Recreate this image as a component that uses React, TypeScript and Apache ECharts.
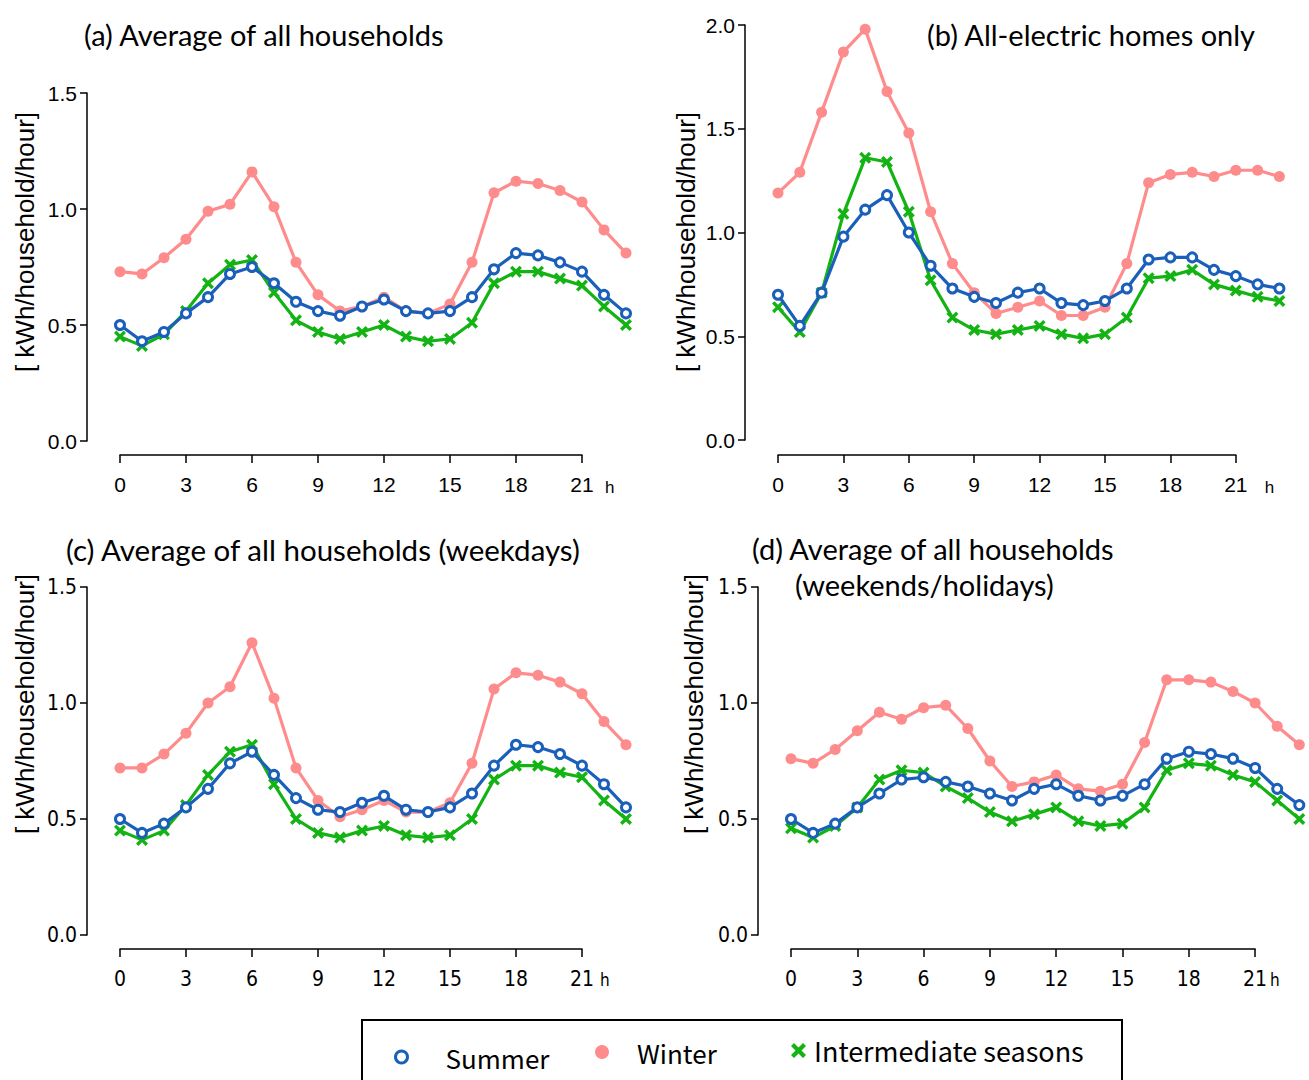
import React, { useEffect, useRef } from "react";
import * as echarts from "echarts";

// ---- data ----
const hours = [0, 1, 2, 3, 4, 5, 6, 7, 8, 9, 10, 11, 12, 13, 14, 15, 16, 17, 18, 19, 20, 21, 22, 23];
const xTicks = [0, 3, 6, 9, 12, 15, 18, 21];
const xUnit = "h";
const seasonNames = ["Summer", "Winter", "Intermediate seasons"];
const panelTitles = [
  "(a) Average of all households",
  "(b) All-electric homes only",
  "(c) Average of all households (weekdays)",
  "(d) Average of all households",
];
const panelSubtitleD = "(weekends/holidays)";
const yAxisTitle = "[ kWh/household/hour]";

const aSummer = [0.50, 0.43, 0.47, 0.55, 0.62, 0.72, 0.75, 0.68, 0.60, 0.56, 0.54, 0.58, 0.61, 0.56, 0.55, 0.56, 0.62, 0.74, 0.81, 0.80, 0.77, 0.73, 0.63, 0.55];
const aWinter = [0.73, 0.72, 0.79, 0.87, 0.99, 1.02, 1.16, 1.01, 0.77, 0.63, 0.56, 0.58, 0.62, 0.56, 0.55, 0.59, 0.77, 1.07, 1.12, 1.11, 1.08, 1.03, 0.91, 0.81];
const aInter = [0.45, 0.41, 0.46, 0.56, 0.68, 0.76, 0.78, 0.64, 0.52, 0.47, 0.44, 0.47, 0.50, 0.45, 0.43, 0.44, 0.51, 0.68, 0.73, 0.73, 0.70, 0.67, 0.58, 0.50];

const bSummer = [0.70, 0.55, 0.71, 0.98, 1.11, 1.18, 1.00, 0.84, 0.73, 0.69, 0.66, 0.71, 0.73, 0.66, 0.65, 0.67, 0.73, 0.87, 0.88, 0.88, 0.82, 0.79, 0.75, 0.73];
const bWinter = [1.19, 1.29, 1.58, 1.87, 1.98, 1.68, 1.48, 1.10, 0.85, 0.71, 0.61, 0.64, 0.67, 0.60, 0.60, 0.64, 0.85, 1.24, 1.28, 1.29, 1.27, 1.30, 1.30, 1.27];
const bInter = [0.64, 0.52, 0.71, 1.09, 1.36, 1.34, 1.10, 0.77, 0.59, 0.53, 0.51, 0.53, 0.55, 0.51, 0.49, 0.51, 0.59, 0.78, 0.79, 0.82, 0.75, 0.72, 0.69, 0.67];

const cSummer = [0.50, 0.44, 0.48, 0.55, 0.63, 0.74, 0.79, 0.69, 0.59, 0.54, 0.53, 0.57, 0.60, 0.54, 0.53, 0.55, 0.61, 0.73, 0.82, 0.81, 0.78, 0.73, 0.65, 0.55];
const cWinter = [0.72, 0.72, 0.78, 0.87, 1.00, 1.07, 1.26, 1.02, 0.72, 0.58, 0.51, 0.54, 0.58, 0.53, 0.53, 0.57, 0.74, 1.06, 1.13, 1.12, 1.09, 1.04, 0.92, 0.82];
const cInter = [0.45, 0.41, 0.45, 0.56, 0.69, 0.79, 0.82, 0.65, 0.50, 0.44, 0.42, 0.45, 0.47, 0.43, 0.42, 0.43, 0.50, 0.67, 0.73, 0.73, 0.70, 0.68, 0.58, 0.50];

const dSummer = [0.50, 0.44, 0.48, 0.55, 0.61, 0.67, 0.68, 0.66, 0.64, 0.61, 0.58, 0.63, 0.65, 0.60, 0.58, 0.60, 0.65, 0.76, 0.79, 0.78, 0.76, 0.72, 0.63, 0.56];
const dWinter = [0.76, 0.74, 0.80, 0.88, 0.96, 0.93, 0.98, 0.99, 0.89, 0.75, 0.64, 0.66, 0.69, 0.63, 0.62, 0.65, 0.83, 1.10, 1.10, 1.09, 1.05, 1.00, 0.90, 0.82];
const dInter = [0.46, 0.42, 0.47, 0.55, 0.67, 0.71, 0.70, 0.64, 0.59, 0.53, 0.49, 0.52, 0.55, 0.49, 0.47, 0.48, 0.55, 0.71, 0.74, 0.73, 0.69, 0.66, 0.58, 0.50];

const panelData = [
  [aSummer, aWinter, aInter],
  [bSummer, bWinter, bInter],
  [cSummer, cWinter, cInter],
  [dSummer, dWinter, dInter],
];
const panelYMax = [1.5, 2.0, 1.5, 1.5];

// ---- layout / style ----
const COLORS = { summer: "#1a5fba", winter: "#ff8c8c", inter: "#13b313" };
const CROSS = "path://M2,0 L5,3 L8,0 L10,2 L7,5 L10,8 L8,10 L5,7 L2,10 L0,8 L3,5 L0,2 Z";
const TOP_FONT = "'Liberation Sans', Arial, sans-serif";
const BOTTOM_FONT = "'Liberation Sans Narrow', 'DejaVu Sans Condensed', 'Liberation Sans', Arial, sans-serif";
const TITLE_FONT = "Lato, 'Noto Sans', sans-serif";
const LEGEND_FONT = "'Noto Sans CJK JP', sans-serif";

const layouts = [
  { left: 120, top: 93, height: 348, dx: 22, yOff: 33, xOff: 14, hGap: 23, hDy: 46, font: TOP_FONT },
  { left: 778, top: 25, height: 415, dx: 21.8, yOff: 33, xOff: 15, hGap: 29, hDy: 47, font: TOP_FONT },
  { left: 120, top: 587, height: 348, dx: 22, yOff: 33, xOff: 14, hGap: 18, hDy: 45, font: BOTTOM_FONT },
  { left: 791, top: 587, height: 348, dx: 22.1, yOff: 33, xOff: 14, hGap: 15, hDy: 45, font: BOTTOM_FONT },
];

function buildOption() {
  const grid: any[] = [];
  const xAxis: any[] = [];
  const yAxis: any[] = [];
  const series: any[] = [];
  const graphic: any[] = [];
  const lastHour = hours[hours.length - 1];
  const lastTick = xTicks[xTicks.length - 1];

  layouts.forEach((L, i) => {
    // data grid
    grid.push({ left: L.left, top: L.top, width: L.dx * lastHour, height: L.height, containLabel: false, outerBoundsMode: "none" });
    // axis grid (x from 0 to 21)
    grid.push({ left: L.left, top: L.top, width: L.dx * lastTick, height: L.height, containLabel: false, outerBoundsMode: "none" });

    xAxis.push({ type: "value", gridIndex: 2 * i, min: 0, max: lastHour, show: false });
    xAxis.push({
      type: "value", gridIndex: 2 * i + 1, min: 0, max: lastTick, interval: 3, position: "bottom", offset: L.xOff,
      axisLine: { show: true, onZero: false, lineStyle: { color: "#000", width: 1.5 } },
      axisTick: { show: true, length: 8, inside: false, lineStyle: { color: "#000", width: 1.5 } },
      axisLabel: { show: true, color: "#000", fontSize: 21, fontFamily: L.font, margin: 19 },
      splitLine: { show: false },
    });

    yAxis.push({
      type: "value", gridIndex: 2 * i, min: 0, max: panelYMax[i], interval: 0.5, position: "left", offset: L.yOff,
      axisLine: { show: true, onZero: false, lineStyle: { color: "#000", width: 1.5 } },
      axisTick: { show: true, length: 7, inside: false, lineStyle: { color: "#000", width: 1.5 } },
      axisLabel: { show: true, color: "#000", fontSize: 21, fontFamily: L.font, margin: 10, formatter: (v: number) => v.toFixed(1) },
      splitLine: { show: false },
    });
    yAxis.push({ type: "value", gridIndex: 2 * i + 1, min: 0, max: 1, show: false });

    // unit "h" after the last tick label
    graphic.push({
      type: "text", x: L.left + L.dx * lastTick + L.hGap, y: L.top + L.height + L.hDy,
      style: { text: xUnit, font: `17px ${L.font}`, fill: "#000", align: "left", verticalAlign: "middle" },
    });

    const [sum, win, inter] = panelData[i];
    const pts = (arr: number[]) => hours.map((h, k) => [h, arr[k]]);
    series.push({
      type: "line", name: seasonNames[1], xAxisIndex: 2 * i, yAxisIndex: 2 * i, data: pts(win), clip: false,
      symbol: "circle", symbolSize: 11, lineStyle: { color: COLORS.winter, width: 3.2 },
      itemStyle: { color: COLORS.winter }, z: 2,
    });
    series.push({
      type: "line", name: seasonNames[2], xAxisIndex: 2 * i, yAxisIndex: 2 * i, data: pts(inter), clip: false,
      symbol: CROSS, symbolSize: 12, lineStyle: { color: COLORS.inter, width: 3.2 },
      itemStyle: { color: COLORS.inter }, z: 3,
    });
    series.push({
      type: "line", name: seasonNames[0], xAxisIndex: 2 * i, yAxisIndex: 2 * i, data: pts(sum), clip: false,
      symbol: "circle", symbolSize: 9, lineStyle: { color: COLORS.summer, width: 3.2 },
      itemStyle: { color: "#fff", borderColor: COLORS.summer, borderWidth: 3 }, z: 4,
    });
  });

  const titleStyle = { color: "#000", fontSize: 29, fontWeight: "normal", fontFamily: TITLE_FONT };
  const title = [
    { text: panelTitles[0], left: 84, top: 20, textStyle: titleStyle, padding: 0 },
    { text: panelTitles[1], left: 927, top: 20, textStyle: titleStyle, padding: 0 },
    { text: panelTitles[2], left: 66, top: 534, textStyle: { ...titleStyle, fontSize: 29.5 }, padding: 0 },
    { text: panelTitles[3], left: 752, top: 534, textStyle: titleStyle, padding: 0 },
    { text: panelSubtitleD, left: 795, top: 570, textStyle: titleStyle, padding: 0 },
  ];

  const yTitlePos = [
    { x: 25, y: 242 },
    { x: 686, y: 242 },
    { x: 25, y: 704 },
    { x: 694, y: 704 },
  ];
  yTitlePos.forEach((p) => {
    graphic.push({
      type: "text", x: p.x, y: p.y, rotation: Math.PI / 2,
      style: { text: yAxisTitle, font: `26px ${TOP_FONT}`, fill: "#000", align: "center", verticalAlign: "middle" },
    });
  });
  graphic.push({
    type: "rect", shape: { x: 362, y: 1020, width: 760, height: 80 },
    style: { fill: "none", stroke: "#000", lineWidth: 2 }, z: -1,
  });

  const legendText = { color: "#000", fontSize: 26, fontFamily: LEGEND_FONT };
  const legend = [
    {
      data: [{ name: seasonNames[0], icon: "circle", itemStyle: { color: "#fff", borderColor: COLORS.summer, borderWidth: 3 } }],
      left: 389, top: 1039, itemWidth: 12, itemHeight: 12, selectedMode: false,
      textStyle: { ...legendText, padding: [0, 0, 0, 33] },
    },
    {
      data: [{ name: seasonNames[1], icon: "circle", itemStyle: { color: COLORS.winter } }],
      left: 590, top: 1034, itemWidth: 14, itemHeight: 14, selectedMode: false,
      textStyle: { ...legendText, padding: [22, 0, 0, 23] },
    },
    {
      data: [{ name: seasonNames[2], icon: CROSS, itemStyle: { color: COLORS.inter } }],
      left: 786, top: 1032, itemWidth: 15, itemHeight: 15, selectedMode: false,
      textStyle: { ...legendText, fontSize: 27, padding: [16, 0, 0, 3] },
    },
  ];

  return { animation: false, backgroundColor: "#fff", title, grid, xAxis, yAxis, series, graphic, legend };
}

export default function App() {
  const ref = useRef<HTMLDivElement>(null);
  useEffect(() => {
    if (!ref.current) return;
    const chart = echarts.init(ref.current, undefined, { renderer: "svg" });
    chart.setOption(buildOption() as any);
    return () => chart.dispose();
  }, []);
  return <div ref={ref} style={{ position: "absolute", left: 0, top: 0, width: 1309, height: 1080 }} />;
}
